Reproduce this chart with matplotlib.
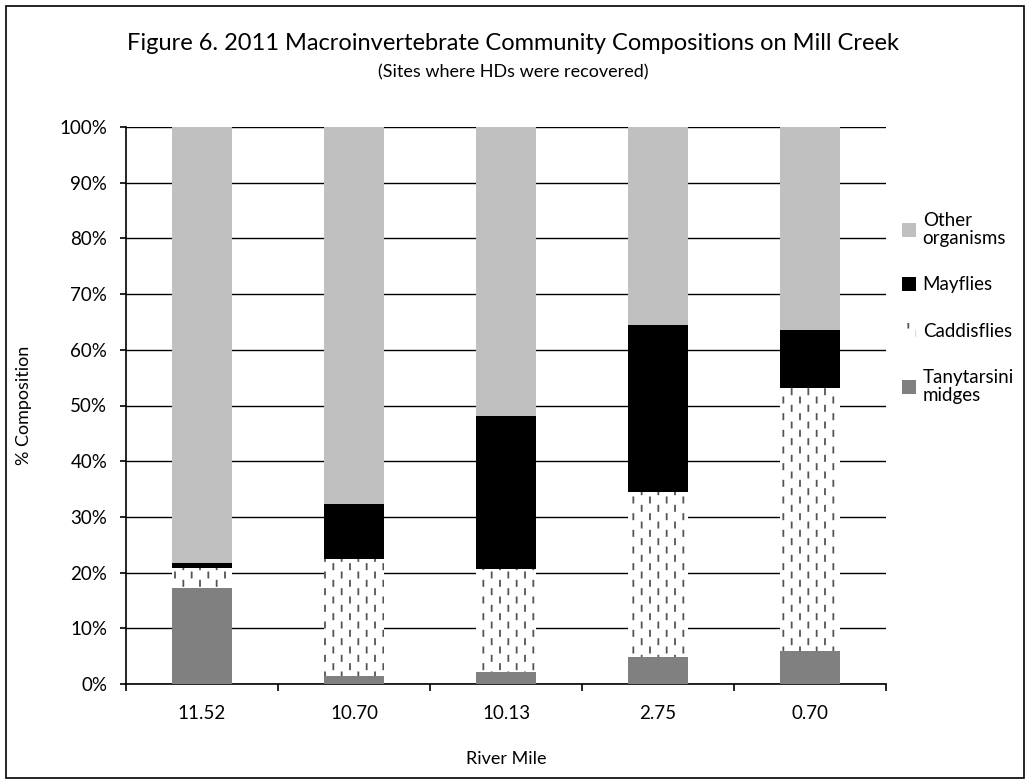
import warnings
import numpy as np
import matplotlib
matplotlib.use("Agg")
import matplotlib.pyplot as plt
from matplotlib import hatch as mhatch
from matplotlib.path import Path
from matplotlib.patches import Rectangle

# ---- data -------------------------------------------------------------
river_miles = ["11.52", "10.70", "10.13", "2.75", "0.70"]
tanytarsini = [17.3, 1.5, 2.1, 4.8, 6.0]
caddisflies = [3.6, 20.9, 18.5, 29.6, 47.1]
mayflies = [0.9, 9.9, 27.5, 30.1, 10.5]
other = [78.2, 67.7, 51.9, 35.5, 36.4]

series_labels = ["Tanytarsini\nmidges", "Caddisflies", "Mayflies", "Other\norganisms"]
y_ticks = [0, 10, 20, 30, 40, 50, 60, 70, 80, 90, 100]


# ---- staggered dash hatch (selected with ':') ------------------------
class DashHatch(mhatch.HatchPatternBase):
    cols = 12
    half_len = 0.026

    def __init__(self, hatch, density):
        self.num_vertices = 0
        if hatch.count(":"):
            step = 1.0 / self.cols
            centres = []
            for i in range(self.cols + 1):
                y0 = (i % 2) * step
                for y in np.arange(y0 - 2 * step, 1 + 2 * step, 2 * step):
                    centres.append((i * step, y))
            self.centres = np.array(centres)
            self.num_vertices = 2 * len(self.centres)

    def set_vertices_and_codes(self, vertices, codes):
        vertices[0::2] = self.centres - [0, self.half_len]
        vertices[1::2] = self.centres + [0, self.half_len]
        codes[0::2] = Path.MOVETO
        codes[1::2] = Path.LINETO


mhatch._hatch_types.append(DashHatch)
warnings.filterwarnings("ignore", message=".*hatch must consist.*")

plt.rcParams["font.family"] = ["Lato", "DejaVu Sans"]
plt.rcParams["hatch.color"] = "#555555"
plt.rcParams["hatch.linewidth"] = 1.3

fig = plt.figure(figsize=(10.31, 7.84), dpi=100)
ax = fig.add_axes([126 / 1031, 1 - 684 / 784, 760 / 1031, 557 / 784])

x = np.arange(len(river_miles))
width = 0.395
bottom = np.zeros(len(x))
styles = [
    dict(color="#808080"),
    dict(facecolor="white", hatch=":"),
    dict(color="black"),
    dict(color="#c0c0c0"),
]
handles = []
for vals, lab, st in zip([tanytarsini, caddisflies, mayflies, other], series_labels, styles):
    bars = ax.bar(x, vals, width, bottom=bottom, label=lab, linewidth=0, zorder=3, **st)
    handles.append(bars)
    bottom += np.array(vals)

ax.set_xlim(-0.5, len(x) - 0.5)
ax.set_ylim(0, 100)
ax.set_yticks(y_ticks, [f"{v}%" for v in y_ticks])
ax.set_xticks(x, river_miles)
ax.set_xticks(np.arange(len(x) + 1) - 0.5, minor=True)
ax.tick_params(axis="x", which="major", length=0, pad=15, labelsize=13.5)
ax.tick_params(axis="x", which="minor", length=5, width=1.2, direction="out")
ax.tick_params(axis="y", length=4, width=1.2, pad=9.5, labelsize=13.5)
ax.yaxis.grid(True, color="black", linewidth=1.0)
ax.set_axisbelow(True)
for s in ["top", "right"]:
    ax.spines[s].set_visible(False)
for s in ["left", "bottom"]:
    ax.spines[s].set_linewidth(1.2)

ax.set_xlabel("River Mile", fontsize=13)
ax.xaxis.set_label_coords(0.5, (684 - 759) / 557)
ax.xaxis.label.set_va("center")
ax.set_ylabel("% Composition", fontsize=13)
ax.yaxis.set_label_coords((24 - 126) / 760, 0.5)
ax.yaxis.label.set_va("center")

fig.text(513 / 1031, 1 - 44 / 784, "Figure 6. 2011 Macroinvertebrate Community Compositions on Mill Creek",
         ha="center", va="center", fontsize=17)
fig.text(513 / 1031, 1 - 72 / 784, "(Sites where HDs were recovered)",
         ha="center", va="center", fontsize=13)

leg = ax.legend(handles[::-1], series_labels[::-1], loc="upper left",
                bbox_to_anchor=(902 / 1031, 1 - 212 / 784), bbox_transform=fig.transFigure,
                frameon=False, fontsize=13.5, handlelength=0.75, handleheight=0.75,
                handletextpad=0.35, labelspacing=1.55, borderaxespad=0, borderpad=0)
for t in leg.get_texts():
    t.set_linespacing(1.1)

fig.patches.append(Rectangle((6 / 1031, 6 / 784), 1018 / 1031, 772 / 784,
                             transform=fig.transFigure, fill=False,
                             edgecolor="black", linewidth=1.2))

fig.savefig("out.png", dpi=100)
